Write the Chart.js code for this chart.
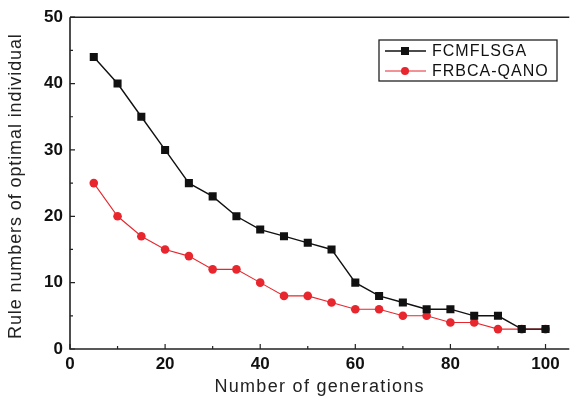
<!DOCTYPE html>
<html>
<head>
<meta charset="utf-8">
<script src="https://cdn.jsdelivr.net/npm/chart.js@4.4.1/dist/chart.umd.min.js"></script>
<style>
  html, body { margin: 0; padding: 0; background: #fff; }
  #wrap { width: 575px; height: 396px; }
</style>
</head>
<body>
<div id="wrap"><canvas id="chart"></canvas></div>
<script>
// data
const generations = [5, 10, 15, 20, 25, 30, 35, 40, 45, 50, 55, 60, 65, 70, 75, 80, 85, 90, 95, 100];
const fcmflsga = [44, 40, 35, 30, 25, 23, 20, 18, 17, 16, 15, 10, 8, 7, 6, 6, 5, 5, 3, 3];
const frbcaQano = [25, 20, 17, 15, 14, 12, 12, 10, 8, 8, 7, 6, 6, 5, 5, 4, 4, 3, 3, 3];
const xTicks = [0, 20, 40, 60, 80, 100];
const xMinor = [10, 30, 50, 70, 90];
const yTicks = [0, 10, 20, 30, 40, 50];
const yMinor = [5, 15, 25, 35, 45];

const seriesNames = ['FCMFLSGA', 'FRBCA-QANO'];
const xTitle = 'Number of generations';
const yTitle = 'Rule numbers of optimal individual';
const BLACK = '#111111';
const RED = '#e8262d';
const FONT = '"Liberation Sans", Arial, sans-serif';

function spaced(ctx, px) {
    if (ctx.letterSpacing !== undefined) ctx.letterSpacing = px + 'px';
}

// frame, inward ticks, axis titles and the boxed legend
const framePlugin = {
    id: 'frame',
    afterDraw(chart) {
        const ctx = chart.ctx;
        const area = chart.chartArea;
        const xs = chart.scales.x;
        const ys = chart.scales.y;
        ctx.save();
        ctx.strokeStyle = '#222';
        ctx.lineWidth = 1.6;
        ctx.beginPath();
        ctx.moveTo(area.left, area.top);
        ctx.lineTo(area.right, area.top);
        ctx.moveTo(area.left, area.top);
        ctx.lineTo(area.left, area.bottom);
        ctx.lineTo(area.right, area.bottom);
        ctx.stroke();

        ctx.lineWidth = 1.2;
        ctx.beginPath();
        xTicks.forEach(v => {
            const px = xs.getPixelForValue(v);
            ctx.moveTo(px, area.bottom);
            ctx.lineTo(px, area.bottom - 5);
        });
        xMinor.forEach(v => {
            const px = xs.getPixelForValue(v);
            ctx.moveTo(px, area.bottom);
            ctx.lineTo(px, area.bottom - 3);
        });
        yTicks.forEach(v => {
            const py = ys.getPixelForValue(v);
            ctx.moveTo(area.left, py);
            ctx.lineTo(area.left + 5, py);
        });
        yMinor.forEach(v => {
            const py = ys.getPixelForValue(v);
            ctx.moveTo(area.left, py);
            ctx.lineTo(area.left + 3, py);
        });
        ctx.stroke();

        // axis titles
        ctx.fillStyle = '#222';
        ctx.font = '18px ' + FONT;
        ctx.textAlign = 'center';
        ctx.textBaseline = 'middle';
        spaced(ctx, 1.3);
        ctx.fillText(xTitle, (area.left + area.right) / 2, 387);
        ctx.save();
        ctx.translate(16, (area.top + area.bottom) / 2 + 3);
        ctx.rotate(-Math.PI / 2);
        spaced(ctx, 0.9);
        ctx.fillText(yTitle, 0, 0);
        ctx.restore();
        spaced(ctx, 0);

        // legend box
        const bx = 379, by = 40, bw = 178, bh = 41;
        ctx.lineWidth = 1.3;
        ctx.strokeStyle = '#222';
        ctx.strokeRect(bx, by, bw, bh);
        const colors = [BLACK, RED];
        ctx.font = '16px ' + FONT;
        ctx.textAlign = 'left';
        seriesNames.forEach((name, i) => {
            const ly = by + 11 + i * 20;
            ctx.strokeStyle = colors[i];
            ctx.lineWidth = i === 0 ? 1.3 : 1;
            ctx.beginPath();
            ctx.moveTo(bx + 6, ly);
            ctx.lineTo(bx + 47, ly);
            ctx.stroke();
            ctx.fillStyle = colors[i];
            if (i === 0) {
                ctx.fillRect(bx + 22, ly - 4, 8, 8);
            } else {
                ctx.beginPath();
                ctx.arc(bx + 26, ly, 4, 0, Math.PI * 2);
                ctx.fill();
            }
            ctx.fillStyle = '#111';
            spaced(ctx, 1);
            ctx.fillText(name, bx + 53, ly + 1);
            spaced(ctx, 0);
        });
        ctx.restore();
    }
};

new Chart(document.getElementById('chart'), {
    type: 'line',
    data: {
        datasets: [{
            label: seriesNames[0],
            data: generations.map((g, i) => ({ x: g, y: fcmflsga[i] })),
            borderColor: BLACK,
            backgroundColor: BLACK,
            borderWidth: 1.4,
            pointStyle: 'rect',
            pointRadius: 5.7,
            pointBorderWidth: 0,
            tension: 0
        }, {
            label: seriesNames[1],
            data: generations.map((g, i) => ({ x: g, y: frbcaQano[i] })),
            borderColor: RED,
            backgroundColor: RED,
            borderWidth: 1.1,
            pointStyle: 'circle',
            pointRadius: 4.3,
            pointBorderWidth: 0,
            tension: 0
        }]
    },
    options: {
        responsive: true,
        maintainAspectRatio: false,
        animation: false,
        layout: { padding: { top: 17, right: 0, left: 0, bottom: 0 } },
        plugins: {
            legend: { display: false },
            tooltip: { enabled: false }
        },
        scales: {
            x: {
                type: 'linear',
                min: 0,
                max: 105,
                afterFit(scale) { scale.height = 47; },
                afterBuildTicks(scale) { scale.ticks = xTicks.map(v => ({ value: v })); },
                grid: { display: false, drawTicks: false },
                border: { display: false },
                ticks: {
                    color: '#111',
                    padding: 5,
                    maxRotation: 0,
                    font: { family: FONT, size: 17, weight: 'bold' }
                },
                title: { display: false }
            },
            y: {
                type: 'linear',
                min: 0,
                max: 50,
                afterFit(scale) { scale.width = 70; },
                afterBuildTicks(scale) { scale.ticks = yTicks.map(v => ({ value: v })); },
                grid: { display: false, drawTicks: false },
                border: { display: false },
                ticks: {
                    color: '#111',
                    padding: 7,
                    font: { family: FONT, size: 17, weight: 'bold' }
                },
                title: { display: false }
            }
        }
    },
    plugins: [framePlugin]
});
</script>
</body>
</html>
